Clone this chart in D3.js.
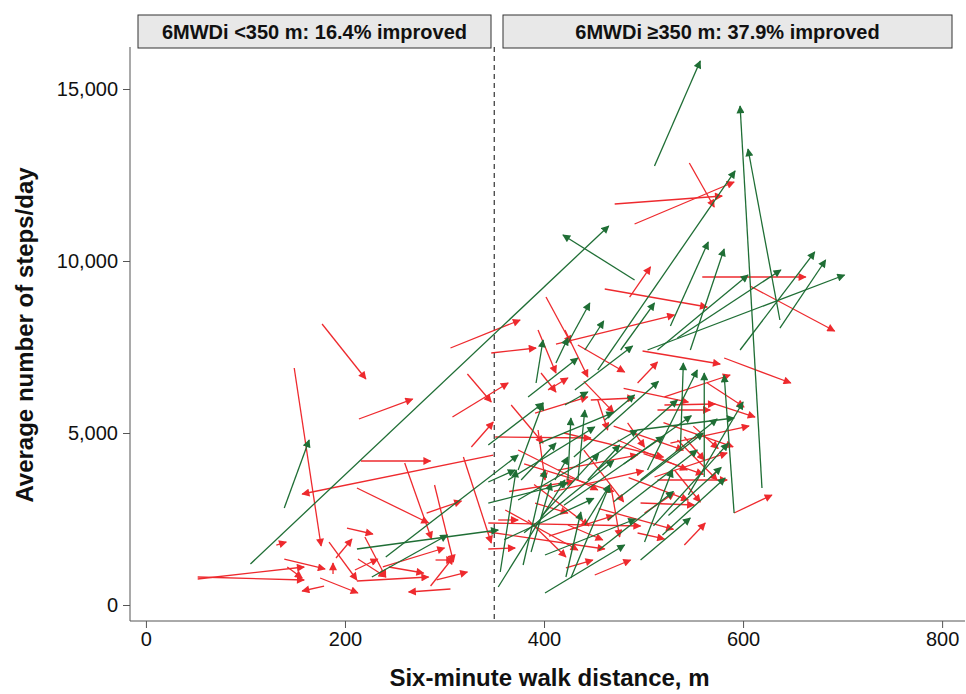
<!DOCTYPE html>
<html><head><meta charset="utf-8">
<script src="https://cdn.jsdelivr.net/npm/d3@7"></script>
<style>body{margin:0;background:#fff;font-family:Arial,"Liberation Sans",sans-serif}</style>
</head><body><svg id="c" width="966" height="694"></svg>
<script>
// arrows: [x0 (6MWD baseline), y0 (steps baseline), x1, y1]
const improved = [
[139,2820,164,4797],[105,1192,465,11018],[227,814,303,2035],[212,1628,354,2180],[241,1395,374,4360],
[511,12762,557,15814],[619,3401,597,14506],[637,8285,605,13256],[454,6831,592,12617],[491,9448,419,10756],
[527,8110,565,10552],[547,7413,581,10349],[637,8052,683,10029],[597,7413,672,10262],[514,7413,605,9593],
[534,7762,638,9739],[504,7413,702,9593],[424,7616,446,8779],[441,7413,460,8256],[477,7413,511,8779],
[561,3721,561,6744],[591,2674,581,6686],[497,3634,574,5407],[494,5087,591,5436],[537,4506,540,7035],
[497,1308,547,2529],[519,2035,582,3692],[501,1831,529,3924],
[392,6454,399,7703],[412,7035,424,7762],[384,6047,434,7180],[431,6250,489,7529],[421,5814,444,6192],
[374,3924,399,5872],[344,4651,399,5872],[424,3634,427,5436],[434,3634,441,5669],[364,3634,451,5174],
[461,5378,491,6105],[377,3634,412,4709],[411,3634,424,4302],[444,3634,476,4651],
[354,523,421,3634],[356,959,372,3924],[379,1163,401,3924],[401,349,481,1744],[427,785,466,3488],
[401,1453,492,2500],[344,2965,424,3547],[344,3576,371,3924],[441,2326,466,3488],[387,1541,407,3547],
[422,814,437,2704],[454,3924,534,5959],[504,3924,554,6831],[464,2471,554,4506],[374,3052,494,5087],
[380,2100,470,4200],[420,2900,520,4900],[455,1600,530,3300],[398,2600,455,4400],[470,3000,560,5000],
[510,2300,585,4700],[360,1900,450,3100],[430,4300,515,6500],[480,4100,548,5500],[545,3200,600,5900],
[395,4700,470,5600],[525,2600,578,4000]
];
const worsened = [
[177,8169,221,6570],[149,6890,176,1715],[214,5407,268,5988],[216,4186,286,4186],[349,4360,157,3227],
[212,3401,284,2384],[260,4128,287,1919],[290,3488,309,1250],[319,4302,347,1802],[52,814,159,727],
[52,756,159,1105],[139,1337,180,1047],[142,1105,157,785],[179,552,157,407],[175,785,213,349],
[188,901,188,1221],[191,1366,207,1919],[184,1831,212,727],[202,2238,228,2064],[212,698,284,814],
[210,1017,233,1337],[213,1337,241,814],[220,1977,241,814],[306,465,264,378],[292,727,323,959],
[286,552,309,1395],[291,1308,309,1308],[238,1105,300,1657],[244,1105,279,930],[282,2674,317,3023],
[131,1744,141,1831],[306,7471,376,8285],[308,5465,364,6454],[323,6715,347,5901],[327,4593,349,5320],
[347,7326,392,7471],
[546,12849,571,11570],[471,11657,579,11890],[491,11076,591,12297],[559,9535,663,9535],[607,9273,692,7965],
[461,9186,564,8663],[486,8953,507,9826],[412,7587,531,8430],[402,8953,427,7616],
[581,7180,648,6454],[499,7384,577,7006],[494,6454,514,7064],[591,2674,629,3198],[521,6047,587,6686],
[564,6454,601,5756],[566,5901,612,5465],[527,4709,606,5203],[521,5814,572,5843],[514,5669,567,5669],
[541,4884,561,4215],[511,3721,584,4419],[541,1744,562,2384],[494,2093,521,1919],[497,2965,551,2907],
[501,2674,531,3256],[531,3924,557,2994],
[394,7994,412,6744],[434,7558,481,6773],[421,7994,444,6628],[404,6250,424,6599],[397,6744,412,6192],
[391,5581,444,6047],[367,5814,399,4709],[351,4884,447,4855],[447,5959,491,6017],[484,5291,501,4593],
[394,5087,401,3634],[454,5959,464,5087],
[451,872,487,1308],[422,1076,449,1308],[344,1628,371,1657],[344,2384,497,2297],[344,2122,461,1628],
[361,2762,434,1599],[384,2471,422,1395],[354,2471,374,2471],[424,2326,459,1890],[467,3488,476,1977],
[391,2965,424,2674],[414,3924,494,4360],[474,4797,544,3924],[534,4797,574,3634],[514,3634,584,3634],
[374,4506,454,3343],
[380,4100,470,3300],[410,3300,500,3900],[440,4500,480,3000],[470,5200,540,4500],[390,3500,445,2300],
[500,4400,560,3800],[420,5000,520,4300],[455,2800,530,2200],[365,3300,430,3600],[485,3700,545,3050],
[520,5300,590,4600],[405,2000,470,2600],[440,6500,470,5600],[480,6300,545,5900],[550,5200,575,4550]
];
const xTicks = [0,200,400,600,800];
const yTicks = [0,5000,10000,15000];
const panelLabels = ["6MWDi <350 m: 16.4% improved","6MWDi \u2265350 m: 37.9% improved"];
const cutoff = 350;

const svg = d3.select("#c");
const L=130,R=965,T=47,B=621;
const x = d3.scaleLinear().domain([-16,823]).range([L,R]);
const y = d3.scaleLinear().domain([-465,16221]).range([B,T]);
const RED="#ee2a2e", GREEN="#1f6e35";
const FONT="Arial,'Liberation Sans',sans-serif";

const defs = svg.append("defs");
[["r",RED],["g",GREEN]].forEach(([id,c])=>{
  defs.append("marker").attr("id","m"+id).attr("viewBox","0 0 10 10").attr("refX",9).attr("refY",5)
   .attr("markerWidth",9).attr("markerHeight",8).attr("markerUnits","userSpaceOnUse").attr("orient","auto")
   .append("path").attr("d","M0,0L10,5L0,10Z").attr("fill",c);
});

const hdr=[[138,491],[503,952]];
hdr.forEach((h,i)=>{
  svg.append("rect").attr("x",h[0]).attr("y",15).attr("width",h[1]-h[0]).attr("height",33)
    .attr("fill","#e8e8e8").attr("stroke","#333").attr("stroke-width",1);
  svg.append("text").attr("x",(h[0]+h[1])/2).attr("y",39).attr("text-anchor","middle")
    .attr("font-size",20).attr("font-weight","bold").attr("fill","#111").attr("font-family",FONT).text(panelLabels[i]);
});

const xa = svg.append("g").attr("transform",`translate(0,${B})`)
  .call(d3.axisBottom(x).tickValues(xTicks).tickSize(7).tickPadding(4));
const ya = svg.append("g").attr("transform",`translate(${L},0)`)
  .call(d3.axisLeft(y).tickValues(yTicks).tickSize(7).tickPadding(5).tickFormat(d3.format(",")));
[xa,ya].forEach(a=>{a.selectAll("text").attr("font-size",20).attr("fill","#111").attr("font-family",FONT);
  a.selectAll("line,path").attr("stroke","#555");});
xa.select(".domain").attr("d",`M${L},0H${R}`);
ya.select(".domain").attr("d",`M0,${B}V${T}`);

svg.append("line").attr("x1",x(cutoff)).attr("x2",x(cutoff)).attr("y1",T).attr("y2",B)
  .attr("stroke","#333").attr("stroke-width",1.2).attr("stroke-dasharray","5,4");

function draw(data,c,m){
  svg.append("g").selectAll("line").data(data).join("line")
   .attr("x1",d=>x(d[0])).attr("y1",d=>y(d[1])).attr("x2",d=>x(d[2])).attr("y2",d=>y(d[3]))
   .attr("stroke",c).attr("stroke-width",1.3).attr("marker-end",`url(#m${m})`);
}
draw(worsened,RED,"r");
draw(improved,GREEN,"g");

svg.append("text").attr("x",(L+R)/2+2).attr("y",686).attr("text-anchor","middle").attr("font-family",FONT)
  .attr("font-size",24).attr("font-weight","bold").attr("fill","#111").text("Six-minute walk distance, m");
svg.append("text").attr("transform","translate(33,335) rotate(-90)").attr("text-anchor","middle").attr("font-family",FONT)
  .attr("font-size",24).attr("font-weight","bold").attr("fill","#111").text("Average number of steps/day");
</script></body></html>
